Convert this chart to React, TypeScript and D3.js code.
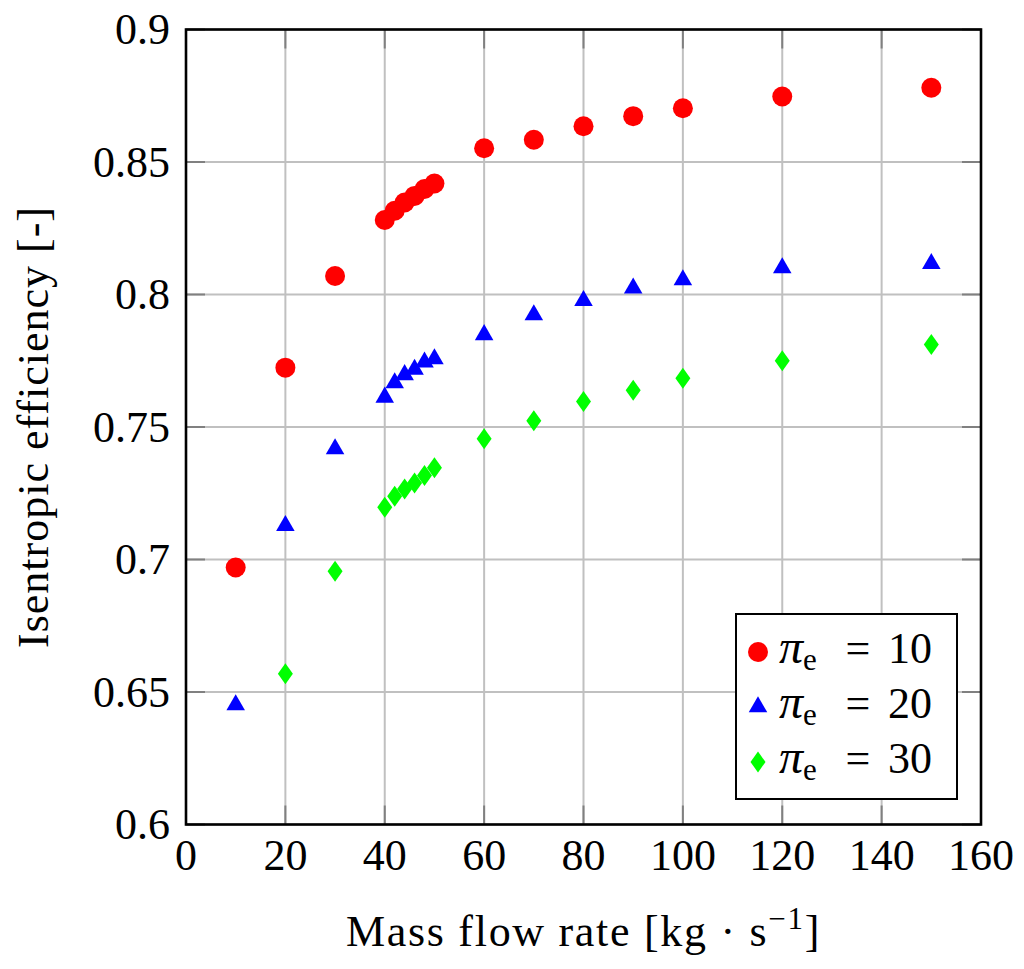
import React, { useEffect, useRef } from "react";
import * as d3 from "d3";

// values
const massFlow = [10, 20, 30, 40, 42, 44, 46, 48, 50, 60, 70, 80, 90, 100, 120, 150];
const massFlow30 = [20, 30, 40, 42, 44, 46, 48, 50, 60, 70, 80, 90, 100, 120, 150];

const eff10 = [0.697, 0.7724, 0.807, 0.8281, 0.8316, 0.8347, 0.8372, 0.8398, 0.8419, 0.8552, 0.8584, 0.8635, 0.8673, 0.8703, 0.8747, 0.878];
const eff20 = [0.6451, 0.7128, 0.7417, 0.7612, 0.7666, 0.7697, 0.7717, 0.7745, 0.7757, 0.7848, 0.7923, 0.7977, 0.8024, 0.8055, 0.81, 0.8116];
const eff30 = [0.6569, 0.6956, 0.7197, 0.7239, 0.7266, 0.7289, 0.7317, 0.7346, 0.7456, 0.7524, 0.7596, 0.7639, 0.7684, 0.775, 0.7811];

const xTicks = [0, 20, 40, 60, 80, 100, 120, 140, 160];
const yTicks = [0.6, 0.65, 0.7, 0.75, 0.8, 0.85, 0.9];
const legendLabels = ["10", "20", "30"];

const FONT = '"Liberation Serif"';

// custom marks, sized to match the pgfplots ones
const circleMark: d3.SymbolType = {
  draw(ctx) {
    ctx.moveTo(10, 0);
    ctx.arc(0, 0, 10, 0, 2 * Math.PI);
  },
};
const triangleMark: d3.SymbolType = {
  draw(ctx) {
    const r = 10.7;
    ctx.moveTo(0, -r);
    ctx.lineTo(r * Math.cos(Math.PI / 6), r / 2);
    ctx.lineTo(-r * Math.cos(Math.PI / 6), r / 2);
    ctx.closePath();
  },
};
const diamondMark: d3.SymbolType = {
  draw(ctx) {
    ctx.moveTo(0, -10.5);
    ctx.lineTo(7.5, 0);
    ctx.lineTo(0, 10.5);
    ctx.lineTo(-7.5, 0);
    ctx.closePath();
  },
};

const series = [
  { xs: massFlow, ys: eff10, color: "#ff0000", mark: circleMark },
  { xs: massFlow, ys: eff20, color: "#0000ff", mark: triangleMark },
  { xs: massFlow30, ys: eff30, color: "#00ff00", mark: diamondMark },
];

const App: React.FC = () => {
  const svgRef = useRef<SVGSVGElement | null>(null);

  useEffect(() => {
    document.body.style.margin = "0";
    if (!svgRef.current) return;

    const width = 1024;
    const height = 969;
    const margin = { top: 29.5, right: 43, bottom: 144.5, left: 186 };
    const innerW = width - margin.left - margin.right;
    const innerH = height - margin.top - margin.bottom;

    const svg = d3.select(svgRef.current);
    svg.selectAll("*").remove();
    svg.attr("width", width).attr("height", height);

    const g = svg.append("g").attr("transform", `translate(${margin.left}, ${margin.top})`);

    const x = d3.scaleLinear().domain([0, 160]).range([0, innerW]);
    const y = d3.scaleLinear().domain([0.6, 0.9]).range([innerH, 0]);

    // grid
    g.append("g")
      .selectAll("line")
      .data(xTicks)
      .enter()
      .append("line")
      .attr("x1", (d) => x(d))
      .attr("x2", (d) => x(d))
      .attr("y1", 0)
      .attr("y2", innerH)
      .attr("stroke", "#c0c0c0")
      .attr("stroke-width", 2);
    g.append("g")
      .selectAll("line")
      .data(yTicks)
      .enter()
      .append("line")
      .attr("x1", 0)
      .attr("x2", innerW)
      .attr("y1", (d) => y(d))
      .attr("y2", (d) => y(d))
      .attr("stroke", "#c0c0c0")
      .attr("stroke-width", 2);

    // inner ticks on all four sides
    const tickLen = 19;
    const tk = g.append("g").attr("stroke", "#808080").attr("stroke-width", 2);
    yTicks.forEach((d) => {
      tk.append("line").attr("x1", 0).attr("x2", tickLen).attr("y1", y(d)).attr("y2", y(d));
      tk.append("line").attr("x1", innerW - tickLen).attr("x2", innerW).attr("y1", y(d)).attr("y2", y(d));
    });
    xTicks.forEach((d) => {
      tk.append("line").attr("x1", x(d)).attr("x2", x(d)).attr("y1", innerH - tickLen).attr("y2", innerH);
      tk.append("line").attr("x1", x(d)).attr("x2", x(d)).attr("y1", 0).attr("y2", tickLen);
    });

    // markers
    series.forEach((s) => {
      const sym = d3.symbol().type(s.mark);
      g.append("g")
        .selectAll("path")
        .data(s.xs.map((xv, i) => [xv, s.ys[i]]))
        .enter()
        .append("path")
        .attr("transform", (d) => `translate(${x(d[0])}, ${y(d[1])})`)
        .attr("d", sym()!)
        .attr("fill", s.color);
    });

    // frame
    g.append("rect")
      .attr("width", innerW)
      .attr("height", innerH)
      .attr("fill", "none")
      .attr("stroke", "#000")
      .attr("stroke-width", 2.6);

    // tick labels
    g.append("g")
      .selectAll("text")
      .data(yTicks)
      .enter()
      .append("text")
      .attr("x", -16)
      .attr("y", (d) => y(d))
      .attr("dy", "0.34em")
      .attr("text-anchor", "end")
      .text((d) => String(d));
    g.append("g")
      .selectAll("text")
      .data(xTicks)
      .enter()
      .append("text")
      .attr("x", (d) => x(d))
      .attr("y", innerH + 45.5)
      .attr("text-anchor", "middle")
      .text((d) => String(d));

    // axis labels (letter-spacing makes up for Palatino being wider)
    const xl = g
      .append("text")
      .attr("x", innerW / 2)
      .attr("y", innerH + 121)
      .attr("text-anchor", "middle")
      .attr("letter-spacing", 1.7);
    xl.append("tspan").text("Mass flow rate [kg · s");
    xl.append("tspan").attr("dy", -17).attr("font-size", 31).text("−1");
    xl.append("tspan").attr("dy", 17).text("]");

    g.append("text")
      .attr("transform", `translate(${48 - margin.left}, ${innerH / 2}) rotate(-90)`)
      .attr("text-anchor", "middle")
      .attr("letter-spacing", 1)
      .text("Isentropic efficiency [-]");

    // legend
    const lg = svg.append("g").attr("transform", "translate(736, 614)");
    lg.append("rect")
      .attr("width", 221)
      .attr("height", 185)
      .attr("fill", "#fff")
      .attr("stroke", "#000")
      .attr("stroke-width", 2);
    series.forEach((s, i) => {
      const cy = 38 + i * 55;
      lg.append("path")
        .attr("transform", `translate(22, ${cy})`)
        .attr("d", d3.symbol().type(s.mark)()!)
        .attr("fill", s.color);
      const t = lg.append("text").attr("x", 43).attr("y", cy + 11);
      t.append("tspan").attr("font-style", "italic").attr("font-size", 48).text("π");
      t.append("tspan").attr("dy", 7).attr("font-size", 31).text("e");
      lg.append("text")
        .attr("x", 122)
        .attr("y", cy + 11)
        .attr("text-anchor", "middle")
        .text("=");
      lg.append("text")
        .attr("x", 196)
        .attr("y", cy + 11)
        .attr("text-anchor", "end")
        .text(legendLabels[i]);
    });
  }, []);

  return (
    <div style={{ width: 1024, height: 969 }}>
      <svg
        ref={svgRef}
        style={{ display: "block", fontFamily: FONT, fontSize: 44 }}
      ></svg>
    </div>
  );
};

export default App;
